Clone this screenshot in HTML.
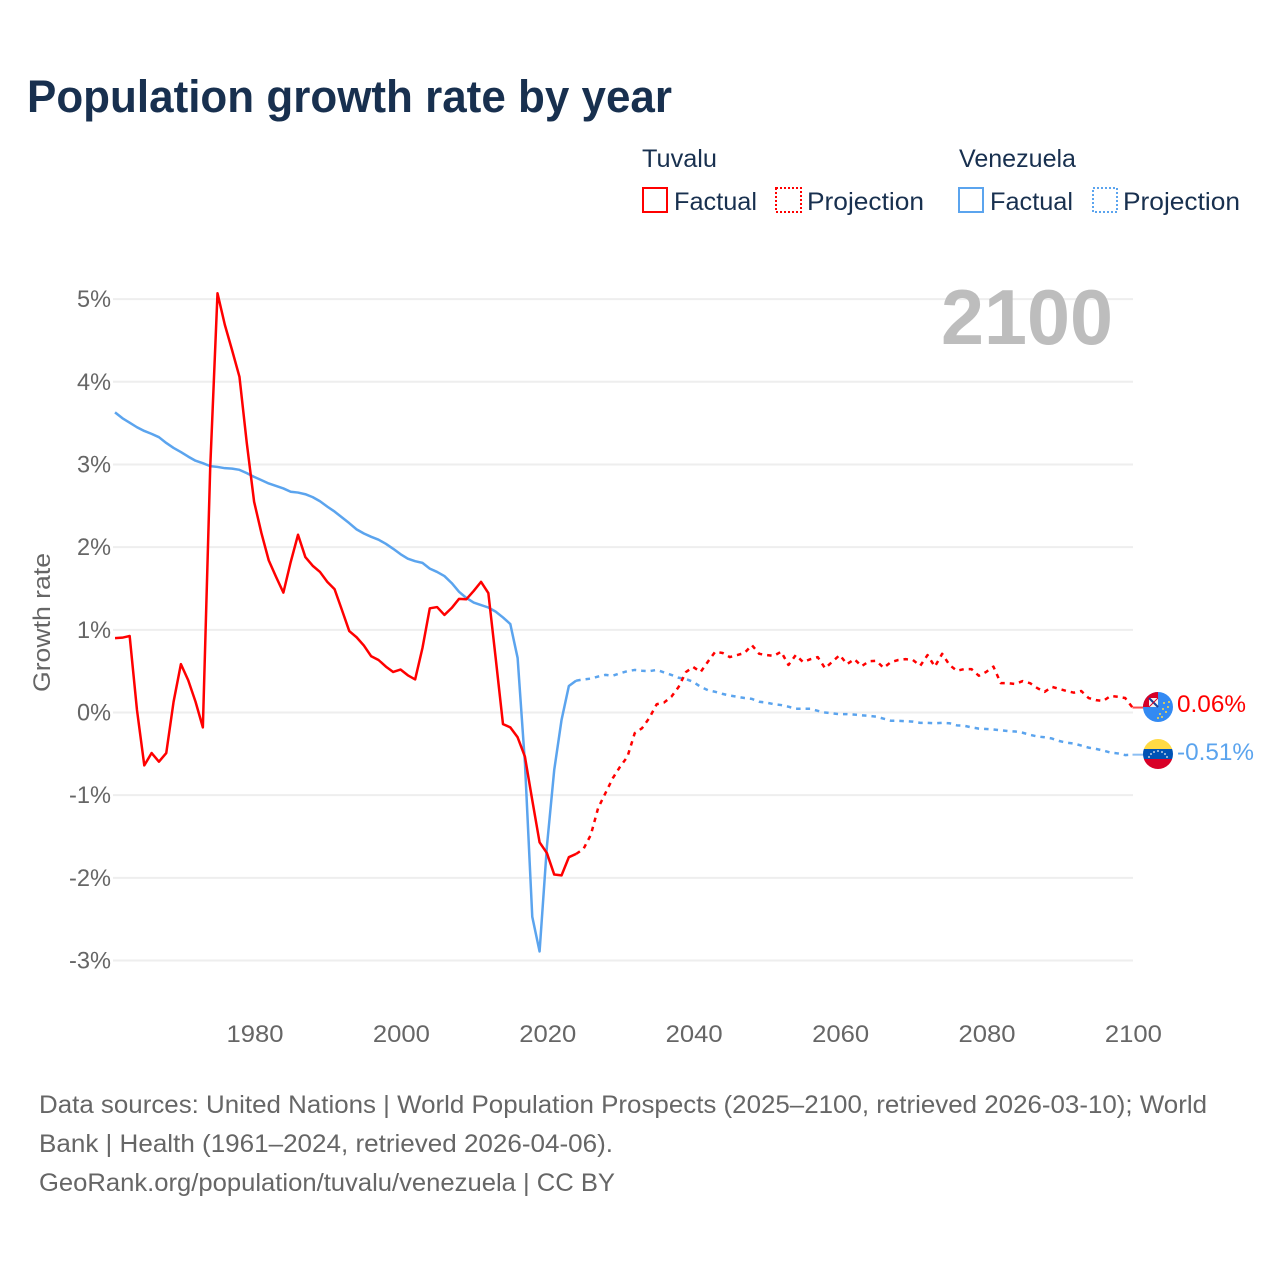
<!DOCTYPE html>
<html lang="en">
<head>
<meta charset="utf-8">
<title>Population growth rate by year</title>
<style>
html,body{margin:0;padding:0;background:#fff;}
svg{display:block;font-family:"Liberation Sans",sans-serif;}
</style>
</head>
<body>
<svg id="chart" xmlns="http://www.w3.org/2000/svg" width="1280" height="1280" viewBox="0 0 1280 1280">
  <rect width="1280" height="1280" fill="#fff"/>
  <text x="27" y="112" font-size="45" font-weight="700" fill="#18304f" textLength="645" lengthAdjust="spacingAndGlyphs">Population growth rate by year</text>

  <g font-size="25" fill="#18304f">
    <text x="642" y="167" textLength="75" lengthAdjust="spacingAndGlyphs">Tuvalu</text>
    <text x="959" y="167" textLength="117" lengthAdjust="spacingAndGlyphs">Venezuela</text>
    <g>
      <rect x="643" y="188" width="24" height="24" fill="none" stroke="#ff0000" stroke-width="2"/>
      <text x="674" y="210" textLength="83" lengthAdjust="spacingAndGlyphs">Factual</text>
    </g>
    <g>
      <rect x="776" y="188" width="25" height="24" fill="none" stroke="#ff0000" stroke-width="2" stroke-dasharray="2 2"/>
      <text x="807" y="210" textLength="117" lengthAdjust="spacingAndGlyphs">Projection</text>
    </g>
    <g>
      <rect x="959" y="188" width="24" height="24" fill="none" stroke="#5ba4ee" stroke-width="2"/>
      <text x="990" y="210" textLength="83" lengthAdjust="spacingAndGlyphs">Factual</text>
    </g>
    <g>
      <rect x="1093" y="188" width="24" height="24" fill="none" stroke="#5ba4ee" stroke-width="2" stroke-dasharray="2 2"/>
      <text x="1123" y="210" textLength="117" lengthAdjust="spacingAndGlyphs">Projection</text>
    </g>
  </g>

  <g id="grid"></g>
  <g id="yticks"></g>
  <g id="xticks"></g>
  <text x="941" y="344" font-size="78" font-weight="700" fill="#bdbdbd" textLength="172" lengthAdjust="spacingAndGlyphs">2100</text>
  <text transform="translate(50 692) rotate(-90)" font-size="24" fill="#666" textLength="139" lengthAdjust="spacingAndGlyphs">Growth rate</text>
  <g id="series"></g>

  <defs>
    <clipPath id="clip-tv"><circle cx="1158" cy="707" r="15"/></clipPath>
    <clipPath id="clip-ve"><circle cx="1158" cy="754" r="15"/></clipPath>
  </defs>
  <g clip-path="url(#clip-tv)">
    <rect x="1143" y="692" width="30" height="30" fill="#338af3"/>
    <rect x="1143" y="692" width="15" height="15" fill="#d80027"/>
    <rect x="1149" y="698" width="9" height="9" fill="#f4f4f4"/>
    <path d="M1149 698l9 9" stroke="#1c3f94" stroke-width="2"/>
    <path d="M1158 698l-9 9" stroke="#d80027" stroke-width="1"/>
    <g fill="#ffda44">
      <circle cx="1169" cy="702" r="1"/><circle cx="1164" cy="703" r="1"/><circle cx="1168" cy="707" r="1"/>
      <circle cx="1163" cy="709" r="1"/><circle cx="1166" cy="712" r="1"/><circle cx="1160" cy="714" r="1"/>
      <circle cx="1162" cy="717" r="1"/><circle cx="1158" cy="718" r="1"/>
    </g>
  </g>
  <g clip-path="url(#clip-ve)">
    <rect x="1143" y="739" width="30" height="10" fill="#ffda44"/>
    <rect x="1143" y="749" width="30" height="10" fill="#0052b4"/>
    <rect x="1143" y="759" width="30" height="10" fill="#d80027"/>
    <g fill="#f0f0f0">
      <circle cx="1149" cy="757" r=".9"/><circle cx="1151" cy="754" r=".9"/><circle cx="1154" cy="752" r=".9"/>
      <circle cx="1158" cy="751" r=".9"/><circle cx="1162" cy="752" r=".9"/><circle cx="1165" cy="754" r=".9"/>
      <circle cx="1167" cy="757" r=".9"/>
    </g>
  </g>
  <text x="1177" y="712" font-size="24" fill="#ff0000" textLength="69" lengthAdjust="spacingAndGlyphs">0.06%</text>
  <text x="1177" y="760" font-size="24" fill="#5ba4ee" textLength="77" lengthAdjust="spacingAndGlyphs">-0.51%</text>

  <g font-size="25" fill="#666">
    <text x="39" y="1113" textLength="1168" lengthAdjust="spacingAndGlyphs">Data sources: United Nations | World Population Prospects (2025–2100, retrieved 2026-03-10); World</text>
    <text x="39" y="1152" textLength="574" lengthAdjust="spacingAndGlyphs">Bank | Health (1961–2024, retrieved 2026-04-06).</text>
    <text x="39" y="1191" textLength="576" lengthAdjust="spacingAndGlyphs">GeoRank.org/population/tuvalu/venezuela | CC BY</text>
  </g>
</svg>
<script>
const xTickLabels = [1980, 2000, 2020, 2040, 2060, 2080, 2100];
const yTickLabels = [5, 4, 3, 2, 1, 0, -1, -2, -3];
const factualStartYear = 1961;
const projectionStartYear = 2024;

const tuvaluFactual = [
  0.90,0.905,0.925,0.03,-0.64,-0.49,-0.595,-0.49,0.13,0.585,
  0.39,0.13,-0.18,2.95,5.07,4.69,4.38,4.06,3.26,2.55,
  2.17,1.84,1.64,1.45,1.82,2.15,1.88,1.775,1.70,1.58,
  1.49,1.24,0.985,0.91,0.81,0.68,0.635,0.555,0.49,0.52,
  0.45,0.40,0.78,1.26,1.275,1.18,1.265,1.375,1.37,1.47,
  1.58,1.445,0.66,-0.14,-0.18,-0.30,-0.535,-1.06,-1.57,-1.70,
  -1.96,-1.97,-1.75,-1.71
];
const tuvaluProjection = [
  -1.71,-1.65,-1.48,-1.155,-0.975,-0.795,-0.655,
  -0.535,-0.25,-0.19,-0.065,0.10,0.12,0.19,0.31,0.49,0.55,
  0.49,0.615,0.735,0.72,0.67,0.695,0.72,0.815,0.71,0.695,
  0.685,0.735,0.575,0.695,0.61,0.645,0.67,0.535,0.615,0.695,
  0.585,0.645,0.56,0.62,0.625,0.54,0.61,0.635,0.645,0.635,
  0.565,0.695,0.555,0.71,0.575,0.505,0.525,0.525,0.445,0.49,
  0.555,0.355,0.355,0.345,0.38,0.355,0.295,0.25,0.31,0.285,
  0.26,0.24,0.26,0.175,0.15,0.14,0.20,0.19,0.175,0.06
];
const venezuelaFactual = [
  3.63,3.56,3.505,3.45,3.405,3.37,3.33,3.26,3.20,3.15,
  3.095,3.045,3.015,2.98,2.97,2.955,2.95,2.935,2.895,2.85,
  2.81,2.77,2.74,2.71,2.67,2.66,2.64,2.605,2.555,2.49,
  2.43,2.36,2.29,2.215,2.165,2.125,2.09,2.04,1.98,1.915,
  1.86,1.83,1.81,1.74,1.70,1.65,1.565,1.46,1.385,1.33,
  1.30,1.27,1.22,1.15,1.07,0.66,-0.61,-2.47,-2.89,-1.62,
  -0.695,-0.09,0.32,0.385
];
const venezuelaProjection = [
  0.385,0.40,0.41,0.435,0.455,0.445,0.475,
  0.50,0.515,0.505,0.50,0.515,0.485,0.455,0.42,0.405,0.37,
  0.31,0.27,0.25,0.225,0.205,0.19,0.175,0.165,0.13,0.12,
  0.10,0.09,0.07,0.045,0.045,0.045,0.02,0,-0.01,-0.02,
  -0.02,-0.025,-0.035,-0.04,-0.05,-0.075,-0.10,-0.10,-0.105,-0.11,
  -0.125,-0.125,-0.13,-0.125,-0.13,-0.155,-0.16,-0.18,-0.195,-0.20,
  -0.205,-0.215,-0.225,-0.23,-0.245,-0.27,-0.29,-0.30,-0.315,-0.345,
  -0.365,-0.375,-0.40,-0.425,-0.44,-0.46,-0.485,-0.495,-0.515,-0.51
];

const NS = 'http://www.w3.org/2000/svg';
function xScale(year) { return 254.1 + (year - 1980) * 7.32; }
function yScale(pct) { return 712.5 - pct * 82.68; }
function make(tag, parentId) {
  const el = document.createElementNS(NS, tag);
  document.getElementById(parentId).appendChild(el);
  return el;
}

yTickLabels.forEach(function (v) {
  const line = make('line', 'grid');
  
  
  line.setAttribute('x1', 113);
  line.setAttribute('x2', 1133);
  line.setAttribute('y1', yScale(v));
  line.setAttribute('y2', yScale(v));
  line.setAttribute('stroke', '#eeeeee');
  line.setAttribute('stroke-width', 2);

  const label = make('text', 'yticks');
  
  
  label.setAttribute('x', 111);
  label.setAttribute('y', yScale(v) + 8);
  label.setAttribute('text-anchor', 'end');
  label.setAttribute('font-size', 24);
  label.setAttribute('fill', '#666');
  label.setAttribute('textLength', v < 0 ? 42 : 34);
  label.setAttribute('lengthAdjust', 'spacingAndGlyphs');
  label.textContent = v + '%';
});

xTickLabels.forEach(function (v) {
  const label = make('text', 'xticks');
  
  
  label.setAttribute('x', xScale(v) + 0.9);
  label.setAttribute('y', 1042);
  label.setAttribute('text-anchor', 'middle');
  label.setAttribute('font-size', 24);
  label.setAttribute('fill', '#666');
  label.setAttribute('textLength', 57);
  label.setAttribute('lengthAdjust', 'spacingAndGlyphs');
  label.textContent = v;
});

function pathFor(values, startYear) {
  return values.map(function (v, i) {
    return (i ? 'L' : 'M') + xScale(startYear + i).toFixed(2) + ' ' + yScale(v).toFixed(2);
  }).join('');
}
function styleLine(el, values, startYear, color, dashed) {
  el.setAttribute('d', pathFor(values, startYear));
  el.setAttribute('fill', 'none');
  el.setAttribute('stroke', color);
  el.setAttribute('stroke-width', 2.5);
  el.setAttribute('stroke-linejoin', 'round');
  if (dashed) el.setAttribute('stroke-dasharray', '4.5 5');
}

const venezuelaProjectionLine = make('path', 'series');


styleLine(venezuelaProjectionLine, venezuelaProjection, projectionStartYear, '#5ba4ee', true);

const tuvaluProjectionLine = make('path', 'series');


styleLine(tuvaluProjectionLine, tuvaluProjection, projectionStartYear, '#ff0000', true);

const venezuelaFactualLine = make('path', 'series');


styleLine(venezuelaFactualLine, venezuelaFactual, factualStartYear, '#5ba4ee', false);

const tuvaluFactualLine = make('path', 'series');


styleLine(tuvaluFactualLine, tuvaluFactual, factualStartYear, '#ff0000', false);

function connector(el, value, color) {
  el.setAttribute('x1', xScale(2100));
  el.setAttribute('x2', 1145);
  el.setAttribute('y1', yScale(value));
  el.setAttribute('y2', yScale(value));
  el.setAttribute('stroke', color);
  el.setAttribute('stroke-width', 2);
  el.setAttribute('stroke-opacity', 0.7);
}
const tuvaluConnector = make('line', 'series');


connector(tuvaluConnector, tuvaluProjection[tuvaluProjection.length - 1], '#ff0000');

const venezuelaConnector = make('line', 'series');


connector(venezuelaConnector, venezuelaProjection[venezuelaProjection.length - 1], '#5ba4ee');
</script>
</body>
</html>
